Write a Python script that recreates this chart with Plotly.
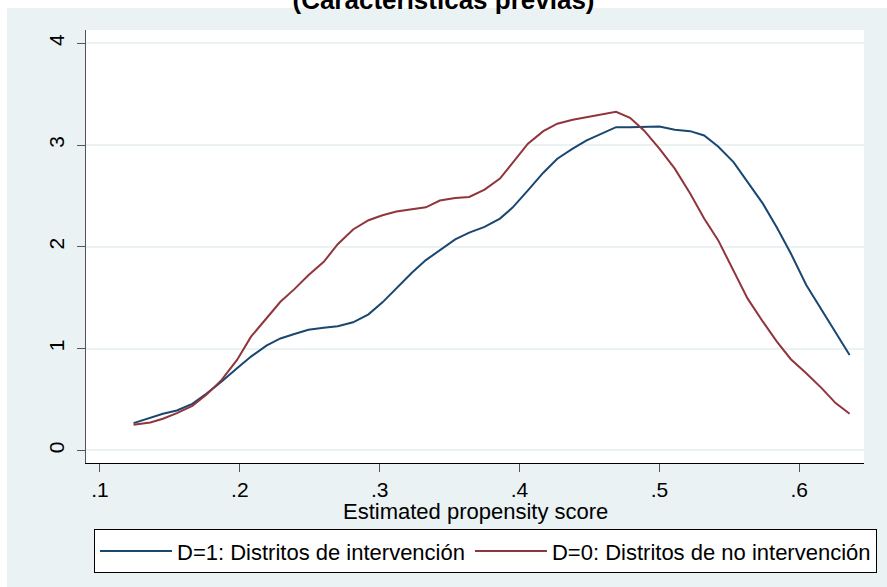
import plotly.graph_objects as go

# ---- data ----
pscore = [0.124, 0.136, 0.145, 0.155, 0.166, 0.176, 0.187, 0.198, 0.208, 0.219,
          0.229, 0.239, 0.249, 0.260, 0.270, 0.281, 0.292, 0.302, 0.312, 0.323,
          0.333, 0.343, 0.354, 0.364, 0.375, 0.386, 0.395, 0.406, 0.417, 0.427,
          0.438, 0.448, 0.458, 0.469, 0.479, 0.489, 0.500, 0.511, 0.522, 0.532,
          0.542, 0.553, 0.563, 0.574, 0.584, 0.594, 0.605, 0.616, 0.626, 0.636]

density_treated = [0.268, 0.318, 0.360, 0.392, 0.458, 0.556, 0.677, 0.808, 0.922, 1.030,
                   1.100, 1.144, 1.186, 1.206, 1.220, 1.259, 1.337, 1.455, 1.592, 1.745,
                   1.870, 1.968, 2.073, 2.140, 2.196, 2.278, 2.386, 2.556, 2.729, 2.866,
                   2.965, 3.046, 3.111, 3.176, 3.176, 3.180, 3.183, 3.151, 3.137, 3.095,
                   2.987, 2.833, 2.637, 2.425, 2.190, 1.935, 1.625, 1.379, 1.151, 0.938]

density_control = [0.252, 0.275, 0.311, 0.367, 0.438, 0.546, 0.693, 0.889, 1.118, 1.298,
                   1.461, 1.585, 1.722, 1.853, 2.026, 2.171, 2.262, 2.311, 2.347, 2.370,
                   2.389, 2.455, 2.480, 2.490, 2.563, 2.671, 2.824, 3.014, 3.137, 3.210,
                   3.249, 3.275, 3.301, 3.327, 3.269, 3.144, 2.965, 2.769, 2.524, 2.278,
                   2.066, 1.772, 1.494, 1.265, 1.069, 0.896, 0.759, 0.612, 0.465, 0.360]

series_names = ["D=1: Distritos de intervención", "D=0: Distritos de no intervención"]
x_tickvals = [0.1, 0.2, 0.3, 0.4, 0.5, 0.6]
x_ticktext = [".1", ".2", ".3", ".4", ".5", ".6"]
y_tickvals = [0, 1, 2, 3, 4]
y_ticktext = ["0", "1", "2", "3", "4"]
title_text = "(Características previas)"
x_title = "Estimated propensity score"

# ---- styling ----
W, H = 887, 587
L, R, T, B = 86, 23, 30, 124
FONT = "Liberation Sans, Arial, sans-serif"
FS = 22
TICK_FS = 21
BG = "#EAF2F3"
NAVY = "#1A476F"
MAROON = "#90353B"

fig = go.Figure()
fig.add_trace(go.Scatter(x=pscore, y=density_treated, mode="lines",
                         name=series_names[0], line=dict(color=NAVY, width=2)))
fig.add_trace(go.Scatter(x=pscore, y=density_control, mode="lines",
                         name=series_names[1], line=dict(color=MAROON, width=2)))

plot_w = W - L - R
plot_h = H - T - B


def px2paper_x(px):
    return (px - L) / plot_w


def px2paper_y(py):
    return (H - B - py) / plot_h


shapes = [
    # white strips around the grey graph region (top and left)
    dict(type="rect", xref="paper", yref="paper", layer="below",
         x0=px2paper_x(0), x1=px2paper_x(W), y0=px2paper_y(8), y1=px2paper_y(0),
         fillcolor="white", line=dict(width=0)),
    dict(type="rect", xref="paper", yref="paper", layer="below",
         x0=px2paper_x(0), x1=px2paper_x(7), y0=px2paper_y(H), y1=px2paper_y(0),
         fillcolor="white", line=dict(width=0)),
    # legend shadow
    dict(type="rect", xref="paper", yref="paper", layer="below",
         x0=px2paper_x(96), x1=px2paper_x(877), y0=px2paper_y(568), y1=px2paper_y(531),
         fillcolor="#8a8a8a", line=dict(width=0)),
]

fig.update_layout(
    width=W, height=H,
    margin=dict(l=L, r=R, t=T, b=B, pad=0),
    paper_bgcolor=BG,
    plot_bgcolor="white",
    font=dict(family=FONT, size=FS, color="black"),
    title=dict(text="<b>" + title_text + "</b>", x=0.5, xref="container", xanchor="center",
               y=1.0, yref="container", yanchor="middle",
               font=dict(family=FONT, size=26, color="black")),
    showlegend=True,
    legend=dict(orientation="h", xref="container", yref="container",
                x=94 / W, xanchor="left", y=1 - 529.3 / H, yanchor="top",
                bgcolor="white", bordercolor="black", borderwidth=1,
                font=dict(family=FONT, size=FS, color="black"),
                itemwidth=72, tracegroupgap=0),
    shapes=shapes,
    annotations=[
        dict(text=x_title, xref="paper", yref="paper", x=0.5, y=px2paper_y(511),
             xanchor="center", yanchor="middle", showarrow=False,
             font=dict(family=FONT, size=FS, color="black")),
    ],
)

fig.update_xaxes(range=[0.09, 0.6463], tickmode="array", tickvals=x_tickvals, ticktext=x_ticktext,
                 ticks="outside", ticklen=8, tickwidth=1, tickcolor="#555555",
                 showline=True, linecolor="black", linewidth=1, mirror=False,
                 showgrid=False, zeroline=False, automargin=False,
                 tickfont=dict(family=FONT, size=TICK_FS, color="black"))
fig.update_yaxes(range=[-0.1235, 4.131], tickmode="array", tickvals=y_tickvals, ticktext=y_ticktext,
                 ticks="outside", ticklen=8, tickwidth=1, tickcolor="#555555", tickangle=-90,
                 ticklabelstandoff=5,
                 showline=True, linecolor="#555555", linewidth=1,
                 showgrid=True, gridcolor=BG, gridwidth=1.5, zeroline=False, automargin=False,
                 tickfont=dict(family=FONT, size=TICK_FS, color="black"))

# the page body has a default 8px margin; remove it so the figure fills the window
fig.write_html("out.html", config={"displayModeBar": False},
               post_script="document.body.style.margin='0px';")
